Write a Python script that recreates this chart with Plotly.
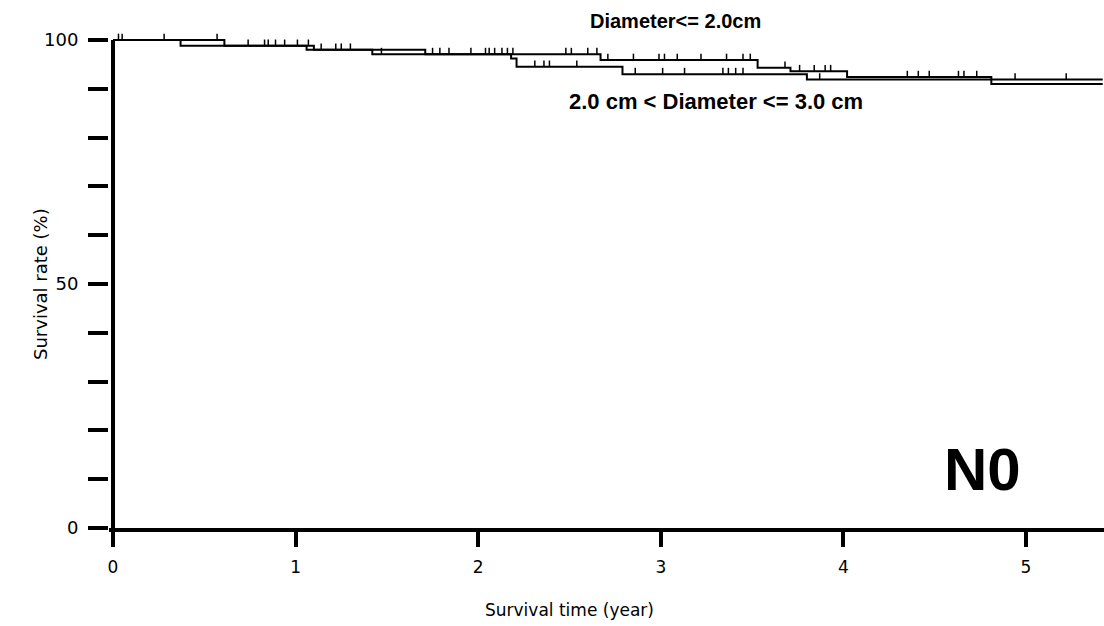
import plotly.graph_objects as go

# ---------------- data ----------------
# Group: Diameter <= 2.0 cm
small_drop_times = [0.61, 1.10, 1.71, 2.67, 3.53, 3.71, 4.02, 4.81]
small_levels = [98.8, 98.0, 97.1, 95.9, 94.3, 93.6, 92.4, 91.0]
small_censor = [0.03, 0.28, 0.57, 0.74, 0.85, 0.94, 1.07, 1.14, 1.25, 1.75,
                1.84, 2.04, 2.09, 2.16, 2.19, 2.48, 2.51, 2.60, 2.65, 2.71,
                2.85, 2.99, 3.02, 3.09, 3.22, 3.36, 3.45, 3.49, 3.68, 3.76,
                3.84, 3.90, 3.93, 4.35, 4.41, 4.47, 4.63, 4.66, 4.73]

# Group: 2.0 cm < Diameter <= 3.0 cm
mid_drop_times = [0.37, 1.06, 1.42, 2.18, 2.21, 2.79, 3.80]
mid_levels = [98.8, 98.0, 97.1, 96.2, 94.5, 93.0, 91.9]
mid_censor = [0.05, 0.83, 0.89, 1.01, 1.22, 1.30, 1.47, 1.79, 1.96, 2.06,
              2.13, 2.31, 2.36, 2.39, 2.54, 2.86, 3.01, 3.13, 3.34, 3.37,
              3.41, 3.45, 3.87, 4.94, 5.22]

follow_up_end = 5.42
start_level = 100.0

x_tick_values = [0, 1, 2, 3, 4, 5]
y_tick_values = [0, 10, 20, 30, 40, 50, 60, 70, 80, 90, 100]
y_tick_labels = ["0", "", "", "", "", "50", "", "", "", "", "100"]

x_title = "Survival time (year)"
y_title = "Survival rate (%)"
label_small = "Diameter<= 2.0cm"
label_mid = "2.0 cm < Diameter <= 3.0 cm"
panel_label = "N0"

# ---------------- helpers ----------------
TICK_H = 1.3  # height of censor mark in % units


def step_xy(times, levels):
    xs = [0.0] + list(times) + [follow_up_end]
    ys = [start_level] + list(levels) + [levels[-1]]
    return xs, ys


def level_at(times, levels, c):
    lvl = start_level
    for t, l in zip(times, levels):
        if t <= c:
            lvl = l
    return lvl


def censor_segments(times, levels, censor):
    xs, ys = [], []
    for c in censor:
        lvl = level_at(times, levels, c)
        xs += [c, c, None]
        ys += [lvl, lvl + TICK_H, None]
    return xs, ys


fig = go.Figure()
for times, levels, censor, name in [
    (small_drop_times, small_levels, small_censor, label_small),
    (mid_drop_times, mid_levels, mid_censor, label_mid),
]:
    sx, sy = step_xy(times, levels)
    fig.add_trace(go.Scatter(x=sx, y=sy, mode="lines", line_shape="hv",
                             line=dict(color="black", width=2), name=name,
                             showlegend=False, hoverinfo="skip"))
    cx, cy = censor_segments(times, levels, censor)
    fig.add_trace(go.Scatter(x=cx, y=cy, mode="lines",
                             line=dict(color="black", width=1.5),
                             showlegend=False, hoverinfo="skip"))

FONT = "Arial, Liberation Sans, sans-serif"
TFONT = "DejaVu Sans, Arial, sans-serif"

fig.update_layout(
    width=1104, height=626,
    margin=dict(l=109, r=0, t=0, b=98, pad=0),
    paper_bgcolor="white", plot_bgcolor="white",
    showlegend=False,
    xaxis=dict(
        range=[-0.0219, 5.427],
        tickvals=x_tick_values,
        ticks="outside", ticklen=15, tickwidth=4, tickcolor="black",
        showline=True, linecolor="black", linewidth=4,
        showgrid=False, zeroline=False, ticklabelstandoff=6,
        tickfont=dict(family=TFONT, size=17, color="black"),
    ),
    yaxis=dict(
        range=[0, 108.2],
        tickvals=y_tick_values, ticktext=y_tick_labels,
        ticks="outside", ticklen=20, tickwidth=4, tickcolor="black",
        showline=False, showgrid=False, zeroline=False, ticklabelstandoff=6,
        tickfont=dict(family=TFONT, size=18, color="black"),
    ),
    shapes=[dict(type="line", xref="x", yref="y", x0=0, x1=0, y0=0, y1=100,
                 line=dict(color="black", width=4), layer="above")],
    annotations=[
        dict(text=x_title, x=2.50, y=0, xref="x", yref="paper",
             yshift=-82, yanchor="middle", showarrow=False,
             font=dict(family=TFONT, size=17, color="black")),
        dict(text=y_title, x=0, y=50, xref="paper", yref="y",
             xshift=-69, xanchor="center", yanchor="middle", textangle=-90,
             showarrow=False, font=dict(family=TFONT, size=18, color="black")),
        dict(text="<b>%s</b>" % label_small, x=3.08, y=103.8, xref="x", yref="y",
             showarrow=False, font=dict(family=FONT, size=20, color="black")),
        dict(text="<b>%s</b>" % label_mid, x=3.30, y=87.5, xref="x", yref="y",
             showarrow=False, font=dict(family=FONT, size=22, color="black")),
        dict(text="<b>%s</b>" % panel_label, x=4.76, y=12.0, xref="x", yref="y",
             showarrow=False, font=dict(family=FONT, size=60, color="black")),
    ],
)

fig.write_html("out.html")
